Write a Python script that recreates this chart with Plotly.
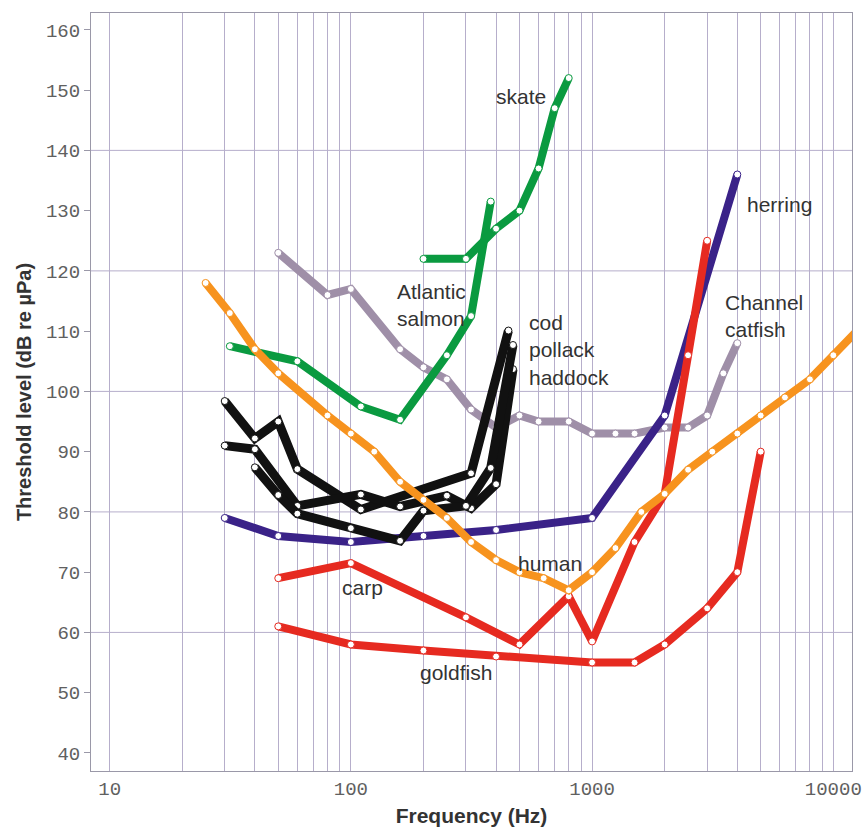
import plotly.graph_objects as go
import numpy as np

# ---- data (frequency in Hz, threshold in dB re 1 µPa) ----
catfish_f = [50, 80, 100, 160, 200, 250, 315, 400, 500, 600, 800, 1000, 1250, 1500, 2000, 2500, 3000, 3500, 4000]
catfish_v = [123, 116, 117, 107, 104, 102, 97, 94, 96, 95, 95, 93, 93, 93, 94, 94, 96, 103, 108]

salmon_f = [31.5, 60, 110, 160, 250, 315, 380]
salmon_v = [107.5, 105, 97.5, 95.3, 106, 112.5, 131.5]

skate_f = [200, 300, 400, 500, 600, 700, 800]
skate_v = [122, 122, 127, 130, 137, 147, 152]

herring_f = [30, 50, 100, 200, 400, 1000, 2000, 4000]
herring_v = [79, 76, 75, 76, 77, 79, 96, 136]

goldfish_f = [50, 100, 200, 400, 1000, 1500, 2000, 3000, 4000, 5000]
goldfish_v = [61, 58, 57, 56, 55, 55, 58, 64, 70, 90]

carp_f = [50, 100, 300, 500, 800, 1000, 1500, 2000, 2500, 3000]
carp_v = [69, 71.5, 62.5, 58, 66, 58.5, 75, 83, 106, 125]

cod_f = [30, 40, 50, 60, 110, 315, 450]
cod_v = [98.4, 92.2, 95, 87.1, 80.4, 86.4, 110.1]

pollack_f = [30, 40, 60, 110, 160, 250, 315, 400, 470]
pollack_v = [91, 90.4, 81, 82.9, 80.9, 82.7, 80.6, 84.6, 103.7]

haddock_f = [40, 50, 60, 100, 160, 200, 300, 380, 470]
haddock_v = [87.4, 82.8, 79.7, 77.3, 75.2, 80.2, 81, 87.3, 107.7]

human_f = [25, 31.5, 40, 50, 80, 100, 125, 160, 200, 250, 315, 400, 500, 630, 800,
           1000, 1250, 1600, 2000, 2500, 3150, 4000, 5000, 6300, 8000, 10000, 12500]
human_v = [118, 113, 107, 103, 96, 93, 90, 85, 82, 79, 75, 72, 70, 69, 67,
           70, 74, 80, 83, 87, 90, 93, 96, 99, 102, 106, 110]

y_ticks = [40, 50, 60, 70, 80, 90, 100, 110, 120, 130, 140, 150, 160]
y_grid = [60, 80, 100, 120, 140]
x_labels = {10: "10", 100: "100", 1000: "1000", 10000: "10000"}

labels = [
    ("skate", 2.705, 149.0, "center"),
    ("Atlantic<br>salmon", 2.183, 114.4, "left"),
    ("cod<br>pollack<br>haddock", 2.730, 106.9, "left"),
    ("herring", 3.634, 131.1, "left"),
    ("Channel<br>catfish", 3.543, 112.5, "left"),
    ("human", 2.684, 71.5, "left"),
    ("carp", 1.957, 67.4, "left"),
    ("goldfish", 2.278, 53.3, "left"),
]

# ---- colours ----
GREEN = "#0a9a40"
PURPLE = "#9f8fa8"
INDIGO = "#3a2288"
RED = "#e62a20"
BLACK = "#111111"
ORANGE = "#f7931e"

series = [
    ("Channel catfish", catfish_f, catfish_v, PURPLE, 8),
    ("Atlantic salmon", salmon_f, salmon_v, GREEN, 8),
    ("skate", skate_f, skate_v, GREEN, 8),
    ("herring", herring_f, herring_v, INDIGO, 8),
    ("goldfish", goldfish_f, goldfish_v, RED, 8),
    ("carp", carp_f, carp_v, RED, 8),
    ("cod", cod_f, cod_v, BLACK, 9),
    ("pollack", pollack_f, pollack_v, BLACK, 9),
    ("haddock", haddock_f, haddock_v, BLACK, 9),
    ("human", human_f, human_v, ORANGE, 8),
]

fig = go.Figure()
for name, fx, fy, col, w in series:
    fig.add_trace(go.Scatter(
        x=fx, y=fy, name=name, mode="lines+markers",
        line=dict(color=col, width=w),
        marker=dict(size=7, color="white", line=dict(color=col, width=1)),
        showlegend=False, cliponaxis=True,
    ))

GRID = "#b6aecb"
for g in y_grid:
    fig.add_shape(type="line", xref="paper", yref="y", x0=0, x1=1, y0=g, y1=g,
                  line=dict(color=GRID, width=1), layer="below")

xt = []
for d in [10, 100, 1000]:
    xt += [d * k for k in range(1, 10)]
xt.append(10000)
xtext = [x_labels.get(v, "") for v in xt]

TICKFONT = dict(family="Liberation Mono, Courier New, monospace", size=19, color="#606060")
TITLEFONT = dict(family="Liberation Sans, Arial, sans-serif", size=21, color="#333333")

fig.update_xaxes(
    type="log", range=[np.log10(8.37), np.log10(11953)],
    tickvals=xt, ticktext=xtext, showgrid=True, gridcolor=GRID, gridwidth=1,
    showline=True, mirror=True, linecolor="#9a98a8", linewidth=1,
    ticks="", zeroline=False, tickfont=TICKFONT, ticklabeloverflow="allow",
    title=dict(text="<b>Frequency (Hz)</b>", standoff=12, font=TITLEFONT),
)
fig.update_yaxes(
    range=[37, 162.8], tickvals=y_ticks, showgrid=False,
    showline=True, mirror=True, linecolor="#9a98a8", linewidth=1,
    ticks="outside", ticklen=6, tickcolor="#9a98a8", zeroline=False,
    tickfont=TICKFONT,
    title=dict(text="<b>Threshold level (dB re µPa)</b>", standoff=8,
               font=dict(family="Liberation Sans, Arial, sans-serif", size=20, color="#333333")),
)
fig.update_layout(
    width=866, height=827,
    margin=dict(l=91, r=14, t=13, b=56, autoexpand=False),
    plot_bgcolor="white", paper_bgcolor="white",
)

for text, lx, ly, anchor in labels:
    fig.add_annotation(x=lx, y=ly, xref="x", yref="y", text=text, showarrow=False,
                       xanchor=anchor, yanchor="middle", align="left",
                       font=dict(family="Liberation Sans, Arial, sans-serif", size=21, color="#333333"))

# remove the page body's default 8px margin so the figure fills the window
fig.write_html("out.html", config={"displayModeBar": False},
               post_script="document.body.style.margin='0px';document.body.style.overflow='hidden';")
